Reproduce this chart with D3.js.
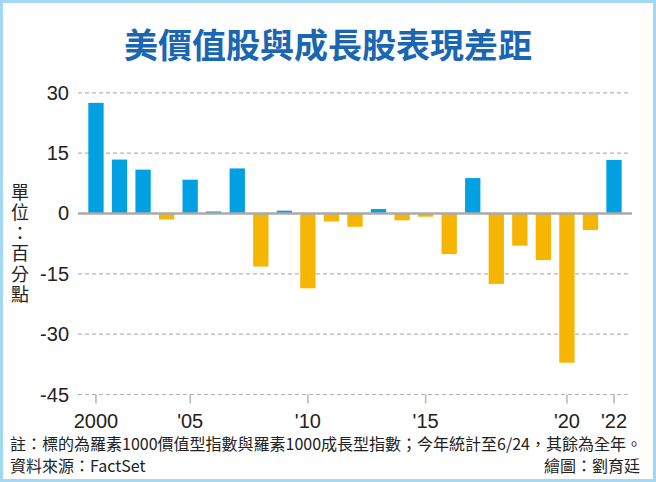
<!DOCTYPE html>
<html>
<head>
<meta charset="utf-8">
<script src="https://cdn.jsdelivr.net/npm/d3@7"></script>
<style>
  body { margin: 0; background: #fff; }
  svg { display: block; }
</style>
</head>
<body>
<div id="chart"></div>
<script>
// yearly gap between Russell 1000 value and growth (percentage points)
const years = d3.range(2000, 2023);
const values = [27.5, 13.4, 10.9, -1.5, 8.4, 0.5, 11.2, -13.2, 0.7, -18.6,
                -2.0, -3.3, 1.1, -1.7, -0.8, -10.1, 8.8, -17.5, -8.0, -11.6,
                -37.1, -4.1, 13.3];
const yTicks = [30, 15, 0, -15, -30, -45];
// tick years as placed in the source picture
const xTickYears = [2000, 2004, 2009, 2014, 2020, 2022];
const xTickLabels = ["2000", "'05", "'10", "'15", "'20", "'22"];

const data = years.map((y, i) => ({ year: y, value: values[i] }));

const W = 656, H = 482;
const blue = "#00a0e3", orange = "#f6b500", gridColor = "#b4b4b4";
const cjk = "'Noto Sans CJK TC', 'Noto Sans', sans-serif";
const num = "'Liberation Sans', Arial, sans-serif";

const svg = d3.select("#chart").append("svg")
    .attr("width", W)
    .attr("height", H);

svg.append("rect")
    .attr("x", 1.5).attr("y", 1.5)
    .attr("width", W - 3).attr("height", H - 3)
    .attr("fill", "#fff")
    .attr("stroke", "#a3d8f2")
    .attr("stroke-width", 3);

svg.append("text")
    .attr("x", 328).attr("y", 58)
    .attr("text-anchor", "middle")
    .style("font-family", cjk)
    .style("font-size", "34px")
    .style("font-weight", "bold")
    .attr("fill", "#1a66b2")
    .text("美價值股與成長股表現差距");

let xScale = d3.scaleBand()
    .domain(years)
    .range([84.2, 625.8])
    .paddingInner(0.35)
    .paddingOuter(0.175);

let yScale = d3.scaleLinear()
    .domain([-45, 30])
    .range([394.5, 92.8]);

// grid
svg.append("g").selectAll("line")
    .data(yTicks.filter(d => d !== 0))
    .enter().append("line")
    .attr("x1", 78).attr("x2", 630)
    .attr("y1", d => yScale(d)).attr("y2", d => yScale(d))
    .attr("stroke", gridColor)
    .attr("stroke-width", 1.2)
    .attr("stroke-dasharray", "4,3");

// y labels
svg.append("g").selectAll("text")
    .data(yTicks)
    .enter().append("text")
    .attr("x", 69)
    .attr("y", d => yScale(d) + 7)
    .attr("text-anchor", "end")
    .style("font-family", num)
    .style("font-size", "20px")
    .attr("fill", "#222")
    .text(d => d);

// bars
svg.append("g").selectAll("rect")
    .data(data)
    .enter().append("rect")
    .attr("x", d => xScale(d.year))
    .attr("width", xScale.bandwidth())
    .attr("y", d => yScale(Math.max(0, d.value)))
    .attr("height", d => Math.abs(yScale(d.value) - yScale(0)))
    .attr("fill", d => d.value >= 0 ? blue : orange);

// zero line
svg.append("line")
    .attr("x1", 78).attr("x2", 632)
    .attr("y1", yScale(0)).attr("y2", yScale(0))
    .attr("stroke", "#aaa")
    .attr("stroke-width", 2.5);

// x ticks
let xt = svg.append("g").selectAll("g")
    .data(xTickYears)
    .enter().append("g")
    .attr("transform", d => "translate(" + (xScale(d) + xScale.bandwidth() / 2) + ",0)");

xt.append("line")
    .attr("y1", yScale(-45)).attr("y2", yScale(-45) + 9)
    .attr("stroke", gridColor)
    .attr("stroke-width", 1.5);

xt.append("text")
    .attr("y", 428)
    .attr("text-anchor", "middle")
    .style("font-family", num)
    .style("font-size", "20px")
    .attr("fill", "#222")
    .text((d, i) => xTickLabels[i]);

// vertical unit label
svg.append("text")
    .attr("x", 20).attr("y", 183)
    .style("writing-mode", "vertical-rl")
    .style("font-family", cjk)
    .style("font-size", "18px")
    .style("letter-spacing", "2.5px")
    .attr("fill", "#222")
    .text("單位：百分點");

// footer
svg.append("text")
    .attr("x", 10).attr("y", 450)
    .style("font-family", cjk)
    .style("font-size", "16px")
    .attr("fill", "#222")
    .text("註：標的為羅素1000價值型指數與羅素1000成長型指數；今年統計至6/24，其餘為全年。");

svg.append("text")
    .attr("x", 10).attr("y", 472)
    .style("font-family", cjk)
    .style("font-size", "16px")
    .attr("fill", "#222")
    .text("資料來源：FactSet");

svg.append("text")
    .attr("x", 640).attr("y", 472)
    .attr("text-anchor", "end")
    .style("font-family", cjk)
    .style("font-size", "16px")
    .attr("fill", "#222")
    .text("繪圖：劉育廷");
</script>
</body>
</html>
